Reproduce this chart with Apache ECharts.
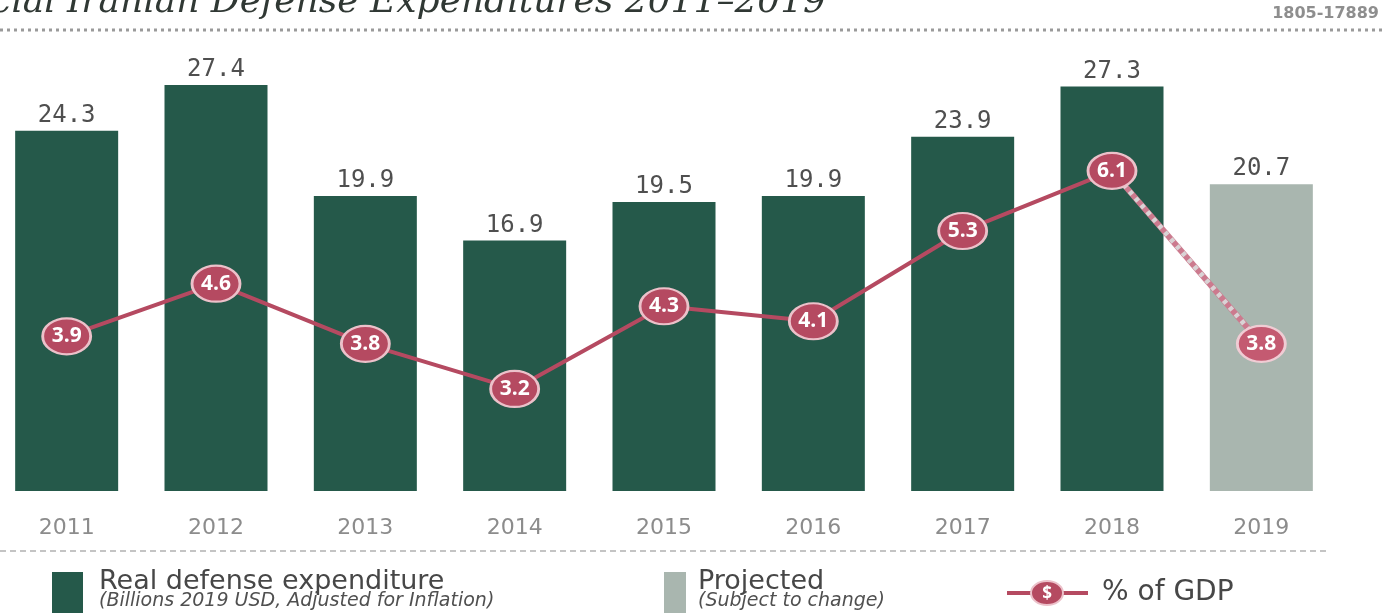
<!DOCTYPE html>
<html>
<head>
<meta charset="utf-8">
<script src="https://cdn.jsdelivr.net/npm/echarts@6/dist/echarts.min.js"></script>
<style>
  html, body { margin: 0; padding: 0; background: #ffffff; overflow: hidden; }
  /* the plot starts a few pixels left of the page edge, so the canvas is shifted */
  #chart { position: absolute; left: -8px; top: 0; width: 1391px; height: 613px; }
</style>
</head>
<body>
<div id="chart"></div>
<script>
// Years on the category axis
const years = ['2011', '2012', '2013', '2014', '2015', '2016', '2017', '2018', '2019'];
// Real defense expenditure, billions of 2019 USD
const realSpend = [24.3, 27.4, 19.9, 16.9, 19.5, 19.9, 23.9, 27.3, null];
// Projected spending (2019 only)
const projectedSpend = [null, null, null, null, null, null, null, null, 20.7];
// Defense spending as % of GDP
const gdpShare = [3.9, 4.6, 3.8, 3.2, 4.3, 4.1, 5.3, 6.1, null];
// Projected % of GDP segment (2018 -> 2019)
const gdpProjected = [null, null, null, null, null, null, null, 6.1, 3.8];
// Projected % of GDP point only
const gdpProjectedPoint = [null, null, null, null, null, null, null, null, 3.8];

const GREEN = '#25594a';
const GREY = '#a9b6af';
const RED = '#b54a61';
const SANS = '"DejaVu Sans", "Open Sans", sans-serif';
const MONO = '"DejaVu Sans Mono", "DejaVu Sans", monospace';
const NARROW = '"Liberation Sans Narrow", "Open Sans", sans-serif';
const OFFSET = 8; // canvas is shifted left by this much
const X = v => v + OFFSET;

const chart = echarts.init(document.getElementById('chart'), null, { renderer: 'canvas' });

const barLabel = {
  show: true,
  position: 'top',
  distance: 3,
  fontFamily: MONO,
  fontSize: 24,
  color: '#4f4f4f'
};

const markerLabel = {
  show: true,
  position: 'inside',
  fontFamily: NARROW,
  fontWeight: 'bold',
  fontSize: 21,
  color: '#ffffff'
};

chart.setOption({
  animation: false,
  backgroundColor: '#ffffff',
  grid: { left: 0, right: 47, top: 46.4, bottom: 122, containLabel: false },
  xAxis: {
    type: 'category',
    data: years,
    axisLine: { show: false },
    axisTick: { show: false },
    axisLabel: {
      margin: 26,
      fontFamily: SANS,
      fontSize: 22,
      color: '#8c8c8c'
    }
  },
  yAxis: [
    { type: 'value', min: 0, max: 30, show: false },
    { type: 'value', min: 1.843, max: 7.755, show: false }
  ],
  series: [
    {
      name: 'Real defense expenditure',
      type: 'bar',
      data: realSpend,
      barWidth: 103,
      barGap: '-100%',
      itemStyle: { color: GREEN },
      label: barLabel,
      z: 1
    },
    {
      name: 'Projected',
      type: 'bar',
      data: projectedSpend,
      barWidth: 103,
      barGap: '-100%',
      itemStyle: { color: GREY },
      label: barLabel,
      z: 1
    },
    {
      name: 'Projected % of GDP base',
      type: 'line',
      yAxisIndex: 1,
      data: gdpProjected,
      symbol: 'none',
      lineStyle: { color: '#cc7a8e', width: 6 },
      z: 3
    },
    {
      name: 'Projected % of GDP dots',
      type: 'line',
      yAxisIndex: 1,
      data: gdpProjected,
      symbol: 'none',
      lineStyle: { color: '#d9d3d5', width: 5, type: [4, 5] },
      z: 3
    },
    {
      name: '% of GDP',
      type: 'line',
      yAxisIndex: 1,
      data: gdpShare,
      symbol: 'circle',
      symbolSize: [48, 36],
      showAllSymbol: true,
      lineStyle: { color: RED, width: 4 },
      itemStyle: { color: RED, borderColor: '#ecc1ca', borderWidth: 2.5 },
      label: markerLabel,
      z: 4
    },
    {
      name: '% of GDP projected point',
      type: 'line',
      yAxisIndex: 1,
      data: gdpProjectedPoint,
      symbol: 'circle',
      symbolSize: [48, 36],
      lineStyle: { width: 0 },
      itemStyle: { color: '#c45a71', borderColor: '#f0ccd4', borderWidth: 2.5 },
      label: markerLabel,
      z: 5
    }
  ],
  graphic: [
    // Title (runs off the top-left edge)
    {
      type: 'text',
      x: X(826),
      y: 3,
      style: {
        text: 'Official Iranian Defense Expenditures 2011\u20132019',
        font: 'italic 36px "DejaVu Serif", "Liberation Serif", serif',
        fill: '#303834',
        align: 'right',
        verticalAlign: 'middle'
      }
    },
    {
      type: 'text',
      x: X(1379),
      y: 14,
      style: {
        text: '1805-17889',
        font: 'bold 16px "DejaVu Sans", sans-serif',
        fill: '#8e8e8e',
        align: 'right',
        verticalAlign: 'middle'
      }
    },
    // Dotted rule under the title
    {
      type: 'line',
      shape: { x1: X(0), y1: 30, x2: X(1383), y2: 30 },
      style: { stroke: '#9a9a9a', lineWidth: 3, lineDash: [3, 4] }
    },
    // Dashed rule above the legend
    {
      type: 'line',
      shape: { x1: X(0), y1: 551, x2: X(1326), y2: 551 },
      style: { stroke: '#c4c4c4', lineWidth: 2, lineDash: [6, 4] }
    },
    // Legend: real defense expenditure
    { type: 'rect', shape: { x: X(52), y: 572, width: 31, height: 41 }, style: { fill: GREEN } },
    {
      type: 'text', x: X(99), y: 582,
      style: { text: 'Real defense expenditure', font: '27px ' + SANS, fill: '#474747', verticalAlign: 'middle' }
    },
    {
      type: 'text', x: X(99), y: 601,
      style: { text: '(Billions 2019 USD, Adjusted for Inflation)', font: 'italic 19px ' + SANS, fill: '#505050', verticalAlign: 'middle' }
    },
    // Legend: projected
    { type: 'rect', shape: { x: X(664), y: 572, width: 22, height: 41 }, style: { fill: GREY } },
    {
      type: 'text', x: X(698), y: 582,
      style: { text: 'Projected', font: '27px ' + SANS, fill: '#474747', verticalAlign: 'middle' }
    },
    {
      type: 'text', x: X(698), y: 601,
      style: { text: '(Subject to change)', font: 'italic 19px ' + SANS, fill: '#505050', verticalAlign: 'middle' }
    },
    // Legend: % of GDP
    {
      type: 'line',
      shape: { x1: X(1007), y1: 593, x2: X(1088), y2: 593 },
      style: { stroke: RED, lineWidth: 4 }
    },
    {
      type: 'ellipse',
      shape: { cx: X(1047), cy: 593, rx: 16, ry: 12 },
      style: { fill: RED, stroke: '#ecc1ca', lineWidth: 2 }
    },
    {
      type: 'text', x: X(1047), y: 594,
      style: { text: '$', font: 'bold 17px ' + NARROW, fill: '#ffffff', align: 'center', verticalAlign: 'middle' }
    },
    {
      type: 'text', x: X(1102), y: 593,
      style: { text: '% of GDP', font: '28px ' + SANS, fill: '#474747', verticalAlign: 'middle' }
    }
  ]
});
</script>
</body>
</html>
